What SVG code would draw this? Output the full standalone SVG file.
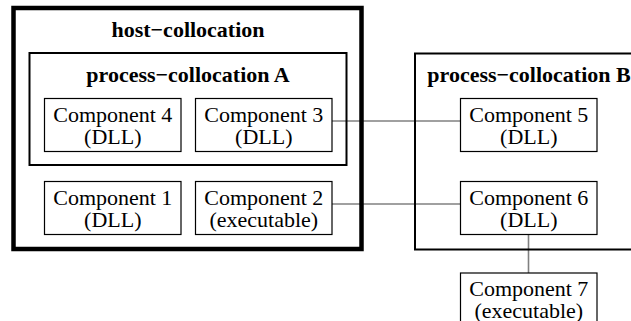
<svg xmlns="http://www.w3.org/2000/svg" width="631" height="321" viewBox="0 0 631 321">
<style>
.bg{fill:#fff}
.host{fill:none;stroke:#000;stroke-width:4.5}
.proc{fill:none;stroke:#000;stroke-width:2}
.comp{fill:#fff;stroke:#000;stroke-width:1.2}
.conn{fill:none;stroke:#808080;stroke-width:1.6}
.t{font-family:"Liberation Serif","Times New Roman",serif;font-size:22px;fill:#000;text-anchor:middle}
.b{font-weight:bold}
</style>
<rect class="bg" x="0" y="0" width="631" height="321"/>
<g id="connectors">
<line class="conn" x1="332" y1="121" x2="460" y2="121"/>
<line class="conn" x1="332" y1="204" x2="460" y2="204"/>
<line class="conn" x1="528.5" y1="234" x2="528.5" y2="273"/>
</g>
<g id="host-collocation">
<rect class="host" x="13.5" y="8" width="348" height="241"/>
<text class="t b" x="188" y="37">host−collocation</text>
</g>
<g id="process-collocation-A">
<rect class="proc" x="29.5" y="53" width="317" height="112"/>
<text class="t b" x="188" y="82">process−collocation A</text>
</g>
<g id="process-collocation-B">
<rect class="proc" x="415" y="53.5" width="228" height="196"/>
<text class="t b" x="529" y="82">process−collocation B</text>
</g>
<g id="component-4">
<rect class="comp" x="44.5" y="98.5" width="136.5" height="53"/>
<text class="t" x="112.8" y="121.5">Component 4</text>
<text class="t" x="112.8" y="143.5">(DLL)</text>
</g>
<g id="component-3">
<rect class="comp" x="195.5" y="98.5" width="136.5" height="53"/>
<text class="t" x="263.8" y="121.5">Component 3</text>
<text class="t" x="263.8" y="143.5">(DLL)</text>
</g>
<g id="component-1">
<rect class="comp" x="44.5" y="181.5" width="136.5" height="53"/>
<text class="t" x="112.8" y="204.5">Component 1</text>
<text class="t" x="112.8" y="226.5">(DLL)</text>
</g>
<g id="component-2">
<rect class="comp" x="195.5" y="181.5" width="136.5" height="53"/>
<text class="t" x="263.8" y="204.5">Component 2</text>
<text class="t" x="263.8" y="226.5">(executable)</text>
</g>
<g id="component-5">
<rect class="comp" x="460.5" y="98.5" width="136.5" height="53"/>
<text class="t" x="528.8" y="121.5">Component 5</text>
<text class="t" x="528.8" y="143.5">(DLL)</text>
</g>
<g id="component-6">
<rect class="comp" x="460.5" y="181.5" width="136.5" height="53"/>
<text class="t" x="528.8" y="204.5">Component 6</text>
<text class="t" x="528.8" y="226.5">(DLL)</text>
</g>
<g id="component-7">
<rect class="comp" x="460.5" y="273" width="136.5" height="53"/>
<text class="t" x="528.8" y="296">Component 7</text>
<text class="t" x="528.8" y="318">(executable)</text>
</g>
</svg>
